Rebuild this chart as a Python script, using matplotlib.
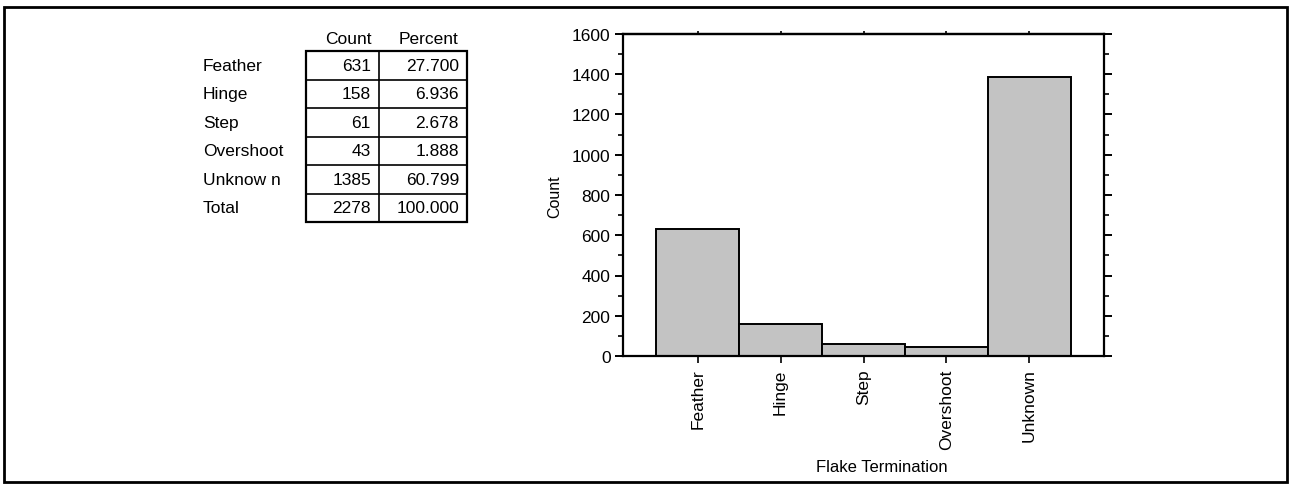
import matplotlib
matplotlib.use("Agg")
import matplotlib.pyplot as plt
from matplotlib.patches import Rectangle
from matplotlib.lines import Line2D
from matplotlib.ticker import MultipleLocator

plt.rcParams['font.family'] = ['Liberation Sans', 'DejaVu Sans']

# ---- data ----
categories = ["Feather", "Hinge", "Step", "Overshoot", "Unknown"]
counts = [631, 158, 61, 43, 1385]
table_labels = ["Feather", "Hinge", "Step", "Overshoot", "Unknow n", "Total"]
table_counts = ["631", "158", "61", "43", "1385", "2278"]
table_percents = ["27.700", "6.936", "2.678", "1.888", "60.799", "100.000"]
y_ticks = [0, 200, 400, 600, 800, 1000, 1200, 1400, 1600]

W, H = 1292, 489
fig = plt.figure(figsize=(W / 100, H / 100), dpi=100)
fig.patch.set_facecolor('white')

def fx(px):
    return px / W

def fy(py):
    return 1 - py / H

# outer frame
fig.add_artist(Rectangle((fx(4), fy(483)), fx(1287) - fx(4), fy(8) - fy(483),
                         transform=fig.transFigure, fill=False, edgecolor='black',
                         linewidth=2.0))

# ---- bar chart ----
ax = fig.add_axes([fx(623), fy(357), fx(1104) - fx(623), fy(35) - fy(357)])
x = list(range(len(categories)))
ax.bar(x, counts, width=1.0, color='#c3c3c3', edgecolor='black', linewidth=1.4)
ax.set_xlim(-0.9, 4.9)
ax.set_ylim(0, 1600)
ax.set_xticks(x)
ax.set_xticklabels(categories, rotation=90, fontsize=12.5)
ax.set_yticks(y_ticks)
ax.set_yticklabels([str(v) for v in y_ticks], fontsize=12.5)
ax.yaxis.set_minor_locator(MultipleLocator(100))
for s in ax.spines.values():
    s.set_linewidth(1.6)
ax.tick_params(axis='y', which='major', direction='out', length=6, width=1.4,
               left=True, right=True, pad=3)
ax.tick_params(axis='y', which='minor', direction='out', length=3.5, width=1.2,
               left=True, right=True)
ax.tick_params(axis='x', which='major', direction='out', length=5, width=1.2,
               bottom=True, top=False, pad=4)
sec = ax.secondary_xaxis('top')
sec.set_xticks(x)
sec.set_xticklabels([])
sec.tick_params(axis='x', direction='out', length=2.5, width=1.2)
sec.spines['top'].set_linewidth(1.6)
ax.set_xlabel("Flake Termination", fontsize=12)
ax.set_ylabel("Count", fontsize=11.5, labelpad=6)
ax.xaxis.set_label_coords((882 - 623) / (1104 - 623), -(467 - 357) / (357 - 35))
ax.xaxis.label.set_verticalalignment('center')
ax.yaxis.set_label_coords(-(623 - 555) / (1104 - 623), (357 - 197) / (357 - 35))
ax.yaxis.label.set_verticalalignment('center')

# ---- table ----
fs = 12.5
fig.text(fx(348), fy(40), "Count", ha='center', va='center', fontsize=fs)
fig.text(fx(428), fy(40), "Percent", ha='center', va='center', fontsize=fs)
row_edges = [52, 80.5, 109, 137.5, 166, 194.5, 223]
for i, (lab, c, p) in enumerate(zip(table_labels, table_counts, table_percents)):
    yc = (row_edges[i] + row_edges[i + 1]) / 2
    fig.text(fx(203), fy(yc), lab, ha='left', va='center', fontsize=fs)
    fig.text(fx(371), fy(yc), c, ha='right', va='center', fontsize=fs)
    fig.text(fx(459), fy(yc), p, ha='right', va='center', fontsize=fs)

x_left, x_mid, x_right = 306, 379, 467
fig.add_artist(Rectangle((fx(x_left), fy(row_edges[-1])), fx(x_right) - fx(x_left),
                         fy(row_edges[0]) - fy(row_edges[-1]), transform=fig.transFigure,
                         fill=False, edgecolor='black', linewidth=1.6))
fig.add_artist(Line2D([fx(x_mid), fx(x_mid)], [fy(row_edges[0]), fy(row_edges[-1])],
                      transform=fig.transFigure, color='black', linewidth=1.2))
for yy in row_edges[1:-1]:
    fig.add_artist(Line2D([fx(x_left), fx(x_right)], [fy(yy), fy(yy)],
                          transform=fig.transFigure, color='black', linewidth=1.2))

fig.savefig("out.png", dpi=100, facecolor='white')
